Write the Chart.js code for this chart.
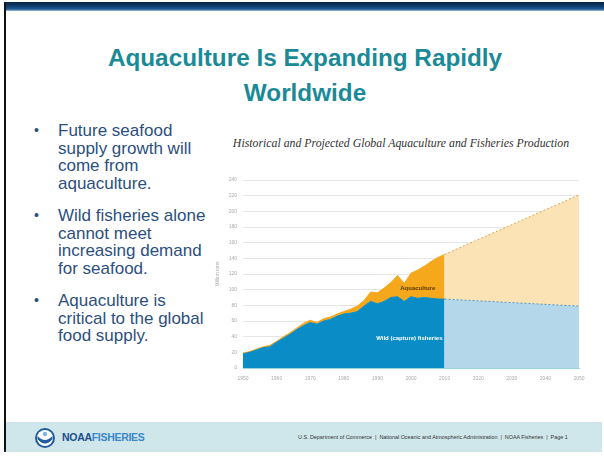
<!DOCTYPE html>
<html>
<head>
<meta charset="utf-8">
<script src="https://cdn.jsdelivr.net/npm/chart.js@4.4.0/dist/chart.umd.min.js"></script>
<style>
  html, body { margin: 0; padding: 0; background: #fff; }
  body { width: 604px; height: 456px; position: relative; overflow: hidden; font-family: "Liberation Sans", Arial, sans-serif; }
  .frame { position: absolute; left: 4px; top: 3px; width: 598px; height: 449px; border-left: 2px solid #111; border-bottom: 2px solid #333; box-sizing: border-box; }
  .topband { position: absolute; left: 4px; top: 2px; width: 600px; height: 9px; background: linear-gradient(#0b2240 0%, #0d3c6e 45%, #1d5a92 80%, #a9c2da 100%); }
  h1 { position: absolute; left: 60px; width: 490px; top: 40px; margin: 0; text-align: center; font-size: 24.3px; line-height: 35px; font-weight: bold; color: #1b8a97; }
  ul { position: absolute; left: 30px; top: 122px; width: 180px; margin: 0; padding: 0; list-style: none; color: #2c4f80; font-size: 17px; line-height: 17.5px; }
  li { position: relative; padding-left: 28px; margin-bottom: 15px; }
  li::before { content: "\2022"; position: absolute; left: 4px; top: 0; font-size: 14px; }
  .ctitle { position: absolute; left: 220px; width: 362px; top: 136px; text-align: center; font-family: "Liberation Serif", serif; font-style: italic; font-size: 11.8px; color: #333; }
  #wrap { position: absolute; left: 215px; top: 165px; width: 375px; height: 220px; }
  .footer { position: absolute; left: 6px; top: 422px; width: 596px; height: 30px; background: #cfe6ea; }
  .logo { position: absolute; left: 34px; top: 427px; }
  .brand { position: absolute; left: 62px; top: 431px; font-size: 10.5px; font-weight: bold; letter-spacing: -0.3px; }
  .brand .n { color: #1d4e8f; }
  .brand .f { color: #3a86c8; }
  .credits { position: absolute; left: 298px; top: 434px; font-size: 5.4px; color: #333; white-space: nowrap; }
</style>
</head>
<body>
<div class="topband"></div>
<div class="frame"></div>
<h1>Aquaculture Is Expanding Rapidly<br>Worldwide</h1>
<ul>
  <li>Future seafood supply growth will come from aquaculture.</li>
  <li>Wild fisheries alone cannot meet increasing demand for seafood.</li>
  <li>Aquaculture is critical to the global food supply.</li>
</ul>
<div class="ctitle">Historical and Projected Global Aquaculture and Fisheries Production</div>
<div id="wrap"><canvas id="chart"></canvas></div>
<div class="footer"></div>
<svg class="logo" width="22" height="22" viewBox="0 0 22 22">
  <circle cx="11" cy="11" r="10" fill="#1f5aa0"/>
  <circle cx="11" cy="11" r="8" fill="#fff"/>
  <path d="M3.5 9 Q11 17 18.5 9 L18.5 12 Q11 21 3.5 12 Z" fill="#1f5aa0"/>
  <circle cx="11" cy="7" r="2.2" fill="#7fb2dd"/>
</svg>
<div class="brand"><span class="n">NOAA</span><span class="f">FISHERIES</span></div>
<div class="credits">U.S. Department of Commerce &nbsp;|&nbsp; National Oceanic and Atmospheric Administration &nbsp;|&nbsp; NOAA Fisheries &nbsp;|&nbsp; Page 1</div>

<script>
// Historical production, million tons
const years = [1950, 1952, 1954, 1956, 1958, 1960, 1962, 1964, 1966, 1968, 1970, 1972, 1974, 1976, 1978,
  1980, 1982, 1984, 1986, 1988, 1990, 1992, 1994, 1996, 1998, 2000, 2002, 2004, 2006, 2008, 2010];
const capture = [18, 20, 23, 26, 27, 33, 38, 43, 49, 54, 58, 56, 60, 62, 66,
  69, 70, 72, 79, 85, 82, 85, 90, 91, 85, 91, 89, 90, 89, 88, 88];
const total = [19, 21, 24, 27, 29, 34, 40, 45, 51, 57, 61, 58, 63, 65, 69,
  72, 75, 79, 86, 97, 96, 102, 109, 118, 108, 121, 125, 130, 136, 141, 145];

// Projection 2010-2050
const projYears = [2010, 2050];
const projCapture = [88, 79];
const projTotal = [145, 221];

// In-chart labels: [text, year, value, colour]
const areaLabels = [
  ['Aquaculture', 2002, 102, '#5a3b00'],
  ['Wild (capture) fisheries', 1999.5, 38, '#ffffff']
];

const yTicks = [0, 20, 40, 60, 80, 100, 120, 140, 160, 180, 200, 220, 240];
const xTicks = [1950, 1960, 1970, 1980, 1990, 2000, 2010, 2020, 2030, 2040, 2050];

const pts = (xs, ys) => xs.map((x, i) => ({ x: x, y: ys[i] }));

const labelPlugin = {
  id: 'areaLabels',
  afterDatasetsDraw(chart) {
    const ctx = chart.ctx;
    const xs = chart.scales.x, ys = chart.scales.y;
    ctx.save();
    ctx.font = 'bold 6px "Liberation Sans", Arial, sans-serif';
    ctx.textAlign = 'center';
    ctx.textBaseline = 'middle';
    areaLabels.forEach(([t, x, y, c]) => {
      ctx.fillStyle = c;
      ctx.fillText(t, xs.getPixelForValue(x), ys.getPixelForValue(y));
    });
    ctx.restore();
  }
};

new Chart(document.getElementById('chart'), {
  type: 'line',
  data: {
    datasets: [
      {
        data: pts(years, capture),
        backgroundColor: '#0a8cc6',
        borderColor: '#0a8cc6',
        borderWidth: 1,
        fill: 'origin',
        pointRadius: 0
      },
      {
        data: pts(years, total),
        backgroundColor: '#f6a81c',
        borderColor: '#f6a81c',
        borderWidth: 1,
        fill: '-1',
        pointRadius: 0
      },
      {
        data: pts(projYears, projCapture),
        backgroundColor: '#b4d8ea',
        borderColor: '#5f93b0',
        borderWidth: 1,
        borderDash: [2, 2],
        fill: 'origin',
        pointRadius: 0
      },
      {
        data: pts(projYears, projTotal),
        backgroundColor: '#fce3b6',
        borderColor: '#d8a449',
        borderWidth: 1,
        borderDash: [2, 2],
        fill: '-1',
        pointRadius: 0
      }
    ]
  },
  options: {
    responsive: true,
    maintainAspectRatio: false,
    animation: false,
    events: [],
    layout: { padding: { top: 15, right: 11, left: 0, bottom: 0 } },
    plugins: { legend: { display: false }, tooltip: { enabled: false } },
    scales: {
      x: {
        type: 'linear',
        min: 1950,
        max: 2050,
        afterBuildTicks(s) { s.ticks = xTicks.map(v => ({ value: v })); },
        afterFit(s) { s.height = 17; },
        grid: { display: false },
        border: { color: '#9fd0e6', width: 1 },
        ticks: { color: '#aaa', font: { size: 5 }, maxRotation: 0, padding: 0, callback: v => v }
      },
      y: {
        min: 0,
        max: 240,
        afterBuildTicks(s) { s.ticks = yTicks.map(v => ({ value: v })); },
        afterFit(s) { s.width = 28; },
        grid: { color: '#e6e6e6', lineWidth: 1, drawTicks: false },
        border: { display: false },
        title: { display: true, text: 'Million tons', color: '#aaa', font: { size: 5 }, padding: 0 },
        ticks: { color: '#aaa', font: { size: 5 }, padding: 6 }
      }
    }
  },
  plugins: [labelPlugin]
});
</script>
</body>
</html>
